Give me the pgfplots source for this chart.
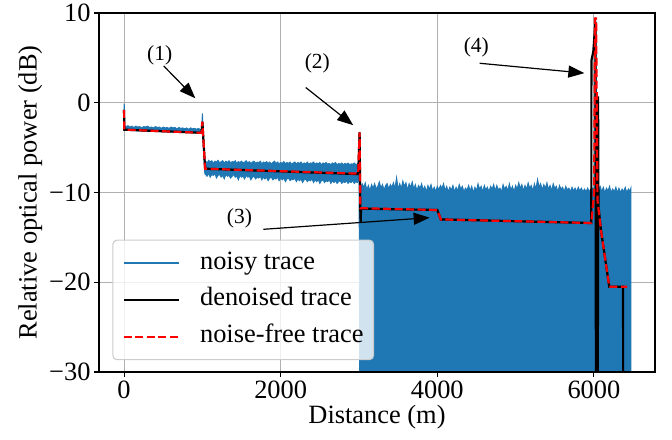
\documentclass[border=0pt]{standalone}
\usepackage{fontspec}
\setmainfont{Liberation Serif}
\usepackage{pgfplots}
\pgfplotsset{compat=1.18}
\usetikzlibrary{arrows.meta}
\definecolor{mplblue}{HTML}{1F77B4}
\definecolor{gridgray}{HTML}{B0B0B0}
\definecolor{legendedge}{HTML}{CCCCCC}
\newcommand{\bigfont}{\fontsize{26.4bp}{31bp}\selectfont}
\newcommand{\notefont}{\fontsize{21.5bp}{25bp}\selectfont}

\begin{document}
\begin{tikzpicture}
\useasboundingbox (-99bp,-68bp) rectangle (573bp,372bp);
\begin{axis}[
  at={(0,0)}, anchor=south west,
  scale only axis, width=556bp, height=359bp,
  xmin=-320, xmax=6780, ymin=-30, ymax=10,
  xtick={0,2000,4000,6000}, xticklabels={0,2000,4000,6000},
  ytick={-30,-20,-10,0,10}, yticklabels={−30,−20,−10,0,10},
  tick align=outside, xtick pos=left, ytick pos=left,
  major tick length=5bp,
  every tick/.style={black, line width=1.1bp},
  grid=major, major grid style={gridgray, line width=1.1bp},
  axis line style={line width=1.1bp},
  tick label style={font=\bigfont},
  label style={font=\bigfont},
  xlabel={Distance (m)}, ylabel={Relative optical power (dB)},
  legend cell align=left,
  legend image code/.code={\draw[#1] (0bp,0bp) -- (55bp,0bp);},
  legend style={at={(rel axis cs:0.024,0.033)}, anchor=south west,
    fill=white, fill opacity=0.8, text opacity=1, draw=legendedge,
    line width=1.1bp, rounded corners=4bp, inner xsep=10bp, inner ysep=11bp,
    row sep=12.7bp, font=\bigfont,
    nodes={inner sep=0pt, text height=18bp, text depth=6bp},
    /tikz/every odd column/.append style={column sep=20bp}},
]

\addlegendimage{mplblue, line width=2.2bp}
\addlegendentry{noisy trace}

% noisy trace: upper envelope from 0 m to the fibre end, then back along the
% lower envelope (beyond 3 km the noise floor runs off the bottom of the scale)
\addplot[fill=mplblue, draw=mplblue, line width=0.8bp, forget plot] coordinates {
(0,-3.0) (1,-0.1) (5,-0.3) (7,-2.6) (25,-2.65) (50,-2.55) (75,-2.7) (100,-2.6)
(125,-2.75) (150,-2.6) (175,-2.7) (200,-2.65) (225,-2.8) (250,-2.65) (275,-2.7)
(300,-2.6) (325,-2.75) (350,-2.7) (375,-2.8) (400,-2.65) (425,-2.75) (450,-2.7)
(475,-2.85) (500,-2.7) (525,-2.8) (550,-2.75) (575,-2.85) (600,-2.7) (625,-2.8)
(650,-2.75) (675,-2.9) (700,-2.75) (725,-2.85) (750,-2.8) (775,-2.9) (800,-2.8)
(825,-2.95) (850,-2.8) (875,-2.9) (900,-2.85) (925,-2.95) (950,-2.85) (975,-3.0)
(992,-2.9) (997,-1.6) (1001,-1.2) (1004,-1.5) (1012,-5.0) (1030,-6.7)
(1040,-6.5) (1060,-6.7) (1080,-6.4) (1100,-6.6) (1120,-6.45) (1140,-6.75) (1160,-6.5)
(1180,-6.6) (1200,-6.4) (1220,-6.7) (1240,-6.55) (1260,-6.45) (1280,-6.7) (1300,-6.5)
(1320,-6.65) (1340,-6.45) (1360,-6.7) (1380,-6.55) (1400,-6.6) (1420,-6.45) (1440,-6.75)
(1460,-6.55) (1480,-6.65) (1500,-6.5) (1520,-6.7) (1540,-6.6) (1560,-6.45) (1580,-6.7)
(1600,-6.55) (1620,-6.75) (1640,-6.6) (1660,-6.5) (1680,-6.75) (1700,-6.6) (1720,-6.7)
(1740,-6.5) (1760,-6.8) (1780,-6.6) (1800,-6.7) (1820,-6.55) (1840,-6.75) (1860,-6.6)
(1880,-6.8) (1900,-6.65) (1920,-6.5) (1940,-6.75) (1960,-6.6) (1980,-6.8) (2000,-6.65)
(2020,-6.75) (2040,-6.55) (2060,-6.8) (2080,-6.65) (2100,-6.75) (2120,-6.6) (2140,-6.85)
(2160,-6.7) (2180,-6.6) (2200,-6.8) (2220,-6.65) (2240,-6.75) (2260,-6.6) (2280,-6.85)
(2300,-6.7) (2320,-6.8) (2340,-6.6) (2360,-6.85) (2380,-6.7) (2400,-6.75) (2420,-6.6)
(2440,-6.85) (2460,-6.7) (2480,-6.8) (2500,-6.65) (2520,-6.9) (2540,-6.7) (2560,-6.8)
(2580,-6.65) (2600,-6.85) (2620,-6.75) (2640,-6.9) (2660,-6.7) (2680,-6.8) (2700,-6.65)
(2720,-6.9) (2740,-6.75) (2760,-6.85) (2780,-6.7) (2800,-6.9) (2820,-6.75) (2840,-6.85)
(2860,-6.7) (2880,-6.9) (2900,-6.8) (2920,-6.85) (2940,-6.7) (2960,-6.9) (2980,-6.8)
(2995,-7.0) (3003,-3.3) (3008,-3.3) (3012,-9.6)
(3020,-9.6) (3040,-9.0) (3060,-9.4) (3080,-8.9) (3100,-9.7) (3120,-9.2) (3140,-9.8)
(3160,-9.1) (3180,-9.5) (3200,-9.0) (3220,-9.6) (3240,-9.3) (3260,-8.8) (3280,-9.5)
(3300,-9.1) (3320,-9.7) (3340,-9.2) (3360,-9.0) (3380,-9.6) (3400,-9.1) (3420,-9.4)
(3440,-8.9) (3460,-9.5) (3480,-8.3) (3500,-9.6) (3520,-9.0) (3540,-9.5) (3560,-8.7)
(3580,-9.3) (3600,-8.9) (3620,-9.7) (3640,-9.0) (3660,-9.4) (3680,-8.8) (3700,-9.6)
(3720,-9.1) (3740,-9.8) (3760,-9.2) (3780,-9.5) (3800,-9.0) (3820,-9.7) (3840,-9.3)
(3860,-9.9) (3880,-9.2) (3900,-9.6) (3920,-9.1) (3940,-9.8) (3960,-9.4) (3980,-9.9)
(4000,-9.3) (4020,-9.7) (4040,-9.2) (4060,-9.5) (4080,-9.0) (4100,-9.8) (4120,-9.3)
(4140,-9.9) (4160,-9.4) (4180,-9.7) (4200,-9.2) (4220,-9.9) (4240,-9.4) (4260,-9.8)
(4280,-9.1) (4300,-9.6) (4320,-9.3) (4340,-9.9) (4360,-9.5) (4380,-9.7) (4400,-9.2)
(4420,-9.8) (4440,-9.3) (4460,-10.0) (4480,-9.4) (4500,-9.8) (4520,-9.0) (4540,-9.6)
(4560,-9.3) (4580,-9.9) (4600,-9.2) (4620,-9.7) (4640,-9.4) (4660,-9.9) (4680,-9.3)
(4700,-9.6) (4720,-9.1) (4740,-9.8) (4760,-9.2) (4780,-9.7) (4800,-9.5) (4820,-9.9)
(4840,-9.1) (4860,-9.6) (4880,-9.3) (4900,-9.8) (4920,-9.0) (4940,-9.7) (4960,-9.3)
(4980,-9.9) (5000,-9.2) (5020,-9.6) (5040,-8.9) (5060,-9.5) (5080,-9.1) (5100,-9.8)
(5120,-9.2) (5140,-9.6) (5160,-8.9) (5180,-9.5) (5200,-9.2) (5220,-9.8) (5240,-9.0)
(5260,-9.6) (5280,-8.5) (5300,-9.4) (5320,-9.0) (5340,-9.7) (5360,-9.1) (5380,-9.5)
(5400,-8.9) (5420,-9.6) (5440,-9.2) (5460,-9.8) (5480,-9.0) (5500,-9.5) (5520,-9.3)
(5540,-9.9) (5560,-9.2) (5580,-9.6) (5600,-9.4) (5620,-9.9) (5640,-9.3) (5660,-9.7)
(5680,-9.5) (5700,-9.9) (5720,-9.4) (5740,-9.8) (5760,-9.5) (5780,-9.9) (5800,-9.4)
(5820,-9.8) (5840,-9.5) (5860,-9.9) (5880,-9.6) (5900,-9.9) (5920,-9.5) (5940,-9.9)
(5960,-9.6) (5990,-9.5) (6005,-9.5) (6015,9.0) (6024,9.5) (6032,-2.0) (6045,-9.3)
(6060,-9.6) (6080,-9.3) (6100,-9.9) (6120,-9.4) (6140,-10.0) (6160,-9.5) (6180,-9.8)
(6200,-9.3) (6220,-10.0) (6240,-9.6) (6260,-9.9) (6280,-9.4) (6300,-10.0) (6320,-9.5)
(6340,-10.0) (6360,-9.6) (6380,-9.9) (6400,-9.4) (6420,-10.0) (6440,-9.6) (6460,-9.8)
(6472,-9.5) (6472,-40) (3012,-40) (3000,-8.4)
(2980,-8.9) (2960,-8.8) (2940,-9.0) (2920,-8.7) (2900,-8.9) (2880,-8.8) (2860,-9.0)
(2840,-8.7) (2820,-8.9) (2800,-8.8) (2780,-9.0) (2760,-8.7) (2740,-8.8) (2720,-9.0)
(2700,-8.7) (2680,-8.9) (2660,-8.7) (2640,-9.0) (2620,-8.6) (2600,-8.8) (2580,-8.7)
(2560,-8.9) (2540,-8.6) (2520,-8.7) (2500,-9.0) (2480,-8.6) (2460,-8.8) (2440,-8.6)
(2420,-8.9) (2400,-8.5) (2380,-8.7) (2360,-8.6) (2340,-8.8) (2320,-8.5) (2300,-8.6)
(2280,-8.9) (2260,-8.5) (2240,-8.7) (2220,-8.5) (2200,-8.8) (2180,-8.4) (2160,-8.6)
(2140,-8.5) (2120,-8.7) (2100,-8.4) (2080,-8.5) (2060,-8.8) (2040,-8.4) (2020,-8.6)
(2000,-8.4) (1980,-8.7) (1960,-8.3) (1940,-8.5) (1920,-8.4) (1900,-8.6) (1880,-8.3)
(1860,-8.4) (1840,-8.7) (1820,-8.3) (1800,-8.5) (1780,-8.3) (1760,-8.6) (1740,-8.2)
(1720,-8.4) (1700,-8.3) (1680,-8.5) (1660,-8.2) (1640,-8.3) (1620,-8.6) (1600,-8.2)
(1580,-8.3) (1560,-8.1) (1540,-8.5) (1520,-8.2) (1500,-8.3) (1480,-8.1) (1460,-8.6)
(1440,-8.2) (1420,-8.3) (1400,-8.0) (1380,-8.2) (1360,-8.4) (1340,-8.1) (1320,-8.2)
(1300,-8.0) (1280,-8.5) (1260,-8.1) (1240,-8.3) (1220,-8.0) (1200,-8.1) (1180,-8.4)
(1160,-7.9) (1140,-8.1) (1120,-8.0) (1100,-8.3) (1080,-7.9) (1060,-8.2) (1040,-8.0)
(1030,-7.9) (1008,-3.5) (995,-3.45)
(900,-3.35) (800,-3.3) (700,-3.3) (600,-3.25) (500,-3.25) (400,-3.2) (300,-3.2)
(200,-3.15) (100,-3.1) (6,-3.1) (0,-3.1)
} -- cycle;

% denoised trace
\addplot[black, line width=2.2bp] coordinates {
(0,-0.8) (3,-3.0) (990,-3.35) (1000,-2.1) (1035,-7.35) (2990,-7.95) (3008,-3.3)
(3016,-11.75) (3022,-13.3) (3026,-11.8) (4000,-11.95) (4045,-13.0) (5967,-13.4)
(5968,4.7) (5992,5.7) (6020,9.0) (6026,-35) (6050,-35) (6053,0.7) (6058,-11.5)
(6090,-14.2) (6196,-20.5) (6372,-20.5) (6374,-35)
};
\addlegendentry{denoised trace}

% noise-free reference trace
\addplot[red, line width=2.2bp, dash pattern=on 8bp off 3.5bp] coordinates {
(0,-0.8) (3,-3.0) (990,-3.35) (1000,-2.1) (1035,-7.35) (2990,-7.9) (3008,-3.3)
(3018,-11.75) (4000,-11.95) (4045,-13.0) (5967,-13.4) (6003,-10.0) (6015,9.4)
(6028,9.4) (6045,-10.8) (6090,-14.2) (6196,-20.5) (6425,-20.5)
};
\addlegendentry{noise-free trace}

% event annotations
\draw[-{Triangle[length=16bp,width=12bp]}, line width=1.2bp] (axis cs:506,4.1) -- (axis cs:910,0.5);
\node[font=\notefont] at (axis cs:455,5.3) {(1)};
\draw[-{Triangle[length=16bp,width=12bp]}, line width=1.2bp] (axis cs:2320,1.7) -- (axis cs:2926,-2.5);
\node[font=\notefont] at (axis cs:2468,4.4) {(2)};
\draw[-{Triangle[length=16bp,width=12bp]}, line width=1.2bp] (axis cs:1780,-14.1) -- (axis cs:3903,-12.8);
\node[font=\notefont] at (axis cs:1474,-12.9) {(3)};
\draw[-{Triangle[length=16bp,width=12bp]}, line width=1.2bp] (axis cs:4540,4.4) -- (axis cs:5878,3.3);
\node[font=\notefont] at (axis cs:4498,6.2) {(4)};
\end{axis}
\draw[line width=1.1bp] (current axis.south west) rectangle (current axis.north east);
\end{tikzpicture}
\end{document}
